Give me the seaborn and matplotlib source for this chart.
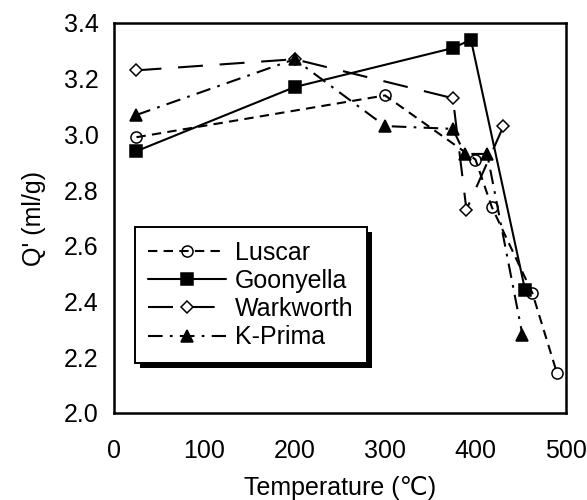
import matplotlib
matplotlib.use('Agg')
import matplotlib.pyplot as plt
import matplotlib.patheffects as pe
import seaborn as sns
import pandas as pd

# Données
luscar_t = [25, 300, 400, 418, 463, 490]
luscar_q = [2.99, 3.14, 2.91, 2.74, 2.43, 2.145]

goonyella_t = [25, 200, 375, 395, 455]
goonyella_q = [2.94, 3.17, 3.31, 3.34, 2.44]

warkworth_t = [25, 200, 375, 390, 431]
warkworth_q = [3.23, 3.27, 3.13, 2.73, 3.03]

kprima_t = [25, 200, 300, 375, 388, 413, 452]
kprima_q = [3.07, 3.27, 3.03, 3.02, 2.93, 2.93, 2.28]

x_ticks = [0, 100, 200, 300, 400, 500]
y_ticks = [2.0, 2.2, 2.4, 2.6, 2.8, 3.0, 3.2, 3.4]

sns.set_style('white')
plt.rcParams['font.family'] = ['Liberation Sans', 'DejaVu Sans']
plt.rcParams['font.size'] = 18
plt.rcParams['text.color'] = 'black'
plt.rcParams['axes.labelcolor'] = 'black'

fig = plt.figure(figsize=(5.87, 5.0), dpi=100)
ax = fig.add_axes([0.194, 0.174, 0.77, 0.78])

# nom, x, y, style de trait, marqueur, remplissage, taille, zorder
series = [
    ('Luscar', luscar_t, luscar_q, (0, (4.5, 3)), 'o', 'none', 8, 3),
    ('Goonyella', goonyella_t, goonyella_q, '-', 's', 'black', 9, 5),
    ('Warkworth', warkworth_t, warkworth_q, (0, (12, 8)), 'D', 'white', 6.5, 2),
    ('K-Prima', kprima_t, kprima_q, (0, (7, 3.5, 1.3, 3.5)), '^', 'black', 9, 4),
]

for name, t, q, ls, mk, mfc, ms, z in series:
    df = pd.DataFrame({'T': t, 'Q': q})
    sns.lineplot(data=df, x='T', y='Q', ax=ax, color='black', linestyle=ls,
                 linewidth=1.5, marker=mk, markersize=ms, markerfacecolor=mfc,
                 markeredgecolor='black', markeredgewidth=1.1, label=name,
                 sort=False, zorder=z)

ax.set_xlim(0, 500)
ax.set_ylim(2.0, 3.4)
ax.set_xticks(x_ticks)
ax.set_yticks(y_ticks)
ax.set_yticklabels([f'{v:.1f}' for v in y_ticks])
ax.tick_params(direction='in', length=9, width=1.1, labelsize=18,
               colors='black')
ax.tick_params(axis='x', pad=19)
ax.tick_params(axis='y', pad=11)
for s in ax.spines.values():
    s.set_linewidth(1.8)
    s.set_color('black')

ax.set_xlabel('Temperature (℃)', fontsize=18, labelpad=9)
ax.set_ylabel("Q' (ml/g)", fontsize=18, labelpad=13)

leg = ax.legend(loc='upper left', bbox_to_anchor=(0.046, 0.477),
                borderaxespad=0, frameon=True, fancybox=False,
                handlelength=3.1, handletextpad=0.35, labelspacing=0.17,
                borderpad=0.55, fontsize=18)
frame = leg.get_frame()
frame.set_edgecolor('black')
frame.set_linewidth(1.4)
frame.set_alpha(1)
frame.set_path_effects([pe.SimplePatchShadow(offset=(3.5, -3.5), shadow_rgbFace='black', alpha=1),
                        pe.Normal()])
leg.set_zorder(10)

fig.savefig('out.png', dpi=100)
